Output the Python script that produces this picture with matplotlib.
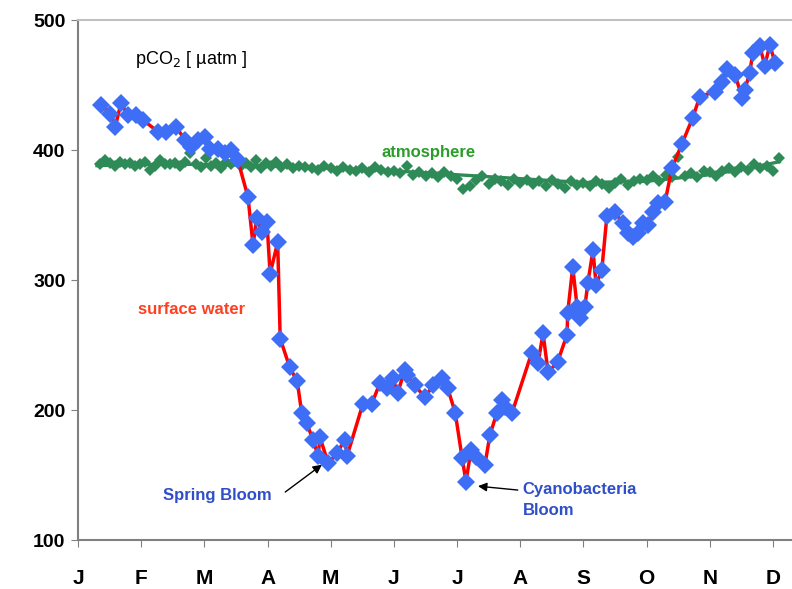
import numpy as np
import matplotlib.pyplot as plt

plt.rcParams['font.family'] = ['Liberation Sans', 'DejaVu Sans']

# month position (0 = Jan 1) and pCO2 in surface water
sw_month = [0.36, 0.51, 0.59, 0.68, 0.79, 0.92, 1.03, 1.27, 1.39, 1.55, 1.69, 1.79, 1.90, 2.01,
            2.09, 2.22, 2.33, 2.42, 2.53, 2.69, 2.77, 2.83, 2.91, 2.99, 3.04, 3.16, 3.20, 3.35,
            3.47, 3.54, 3.62, 3.72, 3.80, 3.83, 3.96, 4.10, 4.22, 4.26, 4.51, 4.65, 4.78, 4.89,
            4.98, 5.06, 5.17, 5.21, 5.33, 5.49, 5.62, 5.76, 5.85, 5.97, 6.08, 6.14, 6.22, 6.30,
            6.44, 6.52, 6.63, 6.71, 6.76, 6.87, 7.18, 7.28, 7.36, 7.44, 7.59, 7.74, 7.75, 7.83,
            7.90, 7.94, 8.02, 8.07, 8.15, 8.20, 8.29, 8.37, 8.50, 8.62, 8.70, 8.78, 8.86, 8.94,
            9.02, 9.10, 9.18, 9.29, 9.40, 9.56, 9.73, 9.84, 10.08, 10.19, 10.27, 10.40, 10.51,
            10.55, 10.63, 10.68, 10.79, 10.87, 10.95, 11.03]
sw_pco2 = [435, 428, 418, 436, 427, 427, 423, 414, 414, 418, 408, 402, 408, 410,
           401, 401, 398, 400, 392, 364, 327, 348, 337, 345, 305, 329, 255, 233,
           222, 198, 190, 177, 165, 179, 159, 167, 177, 165, 205, 205, 221, 217,
           225, 213, 231, 227, 219, 210, 219, 225, 217, 198, 163, 145, 169, 164,
           158, 181, 198, 208, 202, 198, 244, 236, 259, 229, 237, 258, 275, 310,
           279, 271, 279, 298, 323, 296, 308, 349, 352, 344, 336, 333, 336, 344,
           342, 352, 359, 360, 386, 405, 425, 441, 445, 452, 462, 458, 440,
           446, 459, 475, 480, 465, 481, 467]

# atmosphere
atm_month = [0.35, 0.42, 0.5, 0.58, 0.66, 0.74, 0.82, 0.9, 0.98, 1.06, 1.14, 1.22, 1.3, 1.38,
             1.46, 1.54, 1.62, 1.7, 1.78, 1.86, 1.94, 2.02, 2.1, 2.18, 2.26, 2.34, 2.42, 2.5,
             2.58, 2.66, 2.74, 2.82, 2.9, 2.98, 3.06, 3.14, 3.22, 3.3, 3.4, 3.5, 3.6, 3.7,
             3.8, 3.9, 4.0, 4.1, 4.2, 4.3, 4.4, 4.5, 4.6, 4.7, 4.8, 4.9, 5.0, 5.1, 5.2, 5.3,
             5.4, 5.5, 5.6, 5.7, 5.8, 5.9, 6.0, 6.1, 6.2, 6.3, 6.4, 6.5, 6.6, 6.7, 6.8, 6.9,
             7.0, 7.1, 7.2, 7.3, 7.4, 7.5, 7.6, 7.7, 7.8, 7.9, 8.0, 8.1, 8.2, 8.3, 8.4, 8.5,
             8.6, 8.7, 8.8, 8.9, 9.0, 9.1, 9.2, 9.3, 9.4, 9.5, 9.6, 9.7, 9.8, 9.9, 10.0, 10.1,
             10.2, 10.3, 10.4, 10.5, 10.6, 10.7, 10.8, 10.9, 11.0, 11.1]
atm_pco2 = [389, 392, 390, 388, 391, 389, 390, 388, 389, 391, 385, 388, 392, 389,
            389, 390, 388, 391, 398, 389, 387, 394, 388, 390, 386, 391, 389, 392,
            388, 390, 387, 392, 386, 390, 388, 391, 387, 389, 386, 388, 387, 386,
            385, 388, 386, 384, 387, 385, 384, 386, 383, 387, 385, 383, 384, 382, 388, 381,
            383, 380, 382, 379, 383, 380, 378, 370, 372, 377, 380, 374, 378, 376, 373, 378,
            375, 377, 374, 376, 372, 377, 374, 371, 376, 373, 375, 372, 376, 374, 371, 375,
            378, 373, 376, 378, 377, 380, 376, 381, 379, 395, 380, 382, 379, 384, 383, 380,
            384, 386, 383, 387, 385, 389, 386, 388, 384, 394]

trend_month = [0.3, 1, 2, 3, 4, 5, 6, 7, 8, 9, 10, 10.5, 11.1]
trend_pco2 = [388, 389, 389, 388, 386, 384, 381, 378, 375, 376, 381, 385, 391]

month_labels = ['J', 'F', 'M', 'A', 'M', 'J', 'J', 'A', 'S', 'O', 'N', 'D']

fig = plt.figure(figsize=(7.92, 5.89), dpi=100)
ax = fig.add_axes([0.0985, 0.083, 0.9015, 0.883])

ax.plot(atm_month, atm_pco2, linestyle='none', marker='D', markersize=6.5, color='#2e8b57',
        markeredgewidth=0)
ax.plot(trend_month, trend_pco2, color='#2e8b57', linewidth=2.4)
ax.plot(sw_month, sw_pco2, color='#ff0000', linewidth=2.5)
ax.plot(sw_month, sw_pco2, linestyle='none', marker='D', markersize=9.5, color='#3d6ef5',
        markeredgewidth=0)

ax.set_xlim(0, 11.3)
ax.set_ylim(100, 500)
ax.set_xticks(range(12))
ax.set_xticklabels(month_labels, fontsize=15, fontweight='bold')
ax.set_yticks([100, 200, 300, 400, 500])
ax.set_yticklabels(['100', '200', '300', '400', '500'], fontsize=14, fontweight='bold')
ax.tick_params(axis='x', length=5, color='#808080', pad=16)
ax.tick_params(axis='y', length=5, color='#808080', pad=4)

for s in ['left', 'bottom']:
    ax.spines[s].set_color('#808080')
    ax.spines[s].set_linewidth(1.5)
ax.spines['top'].set_color('#c0c0c0')
ax.spines['top'].set_linewidth(1.5)
ax.spines['right'].set_visible(False)

ax.text(0.9, 470, 'pCO$_2$ [ µatm ]', fontsize=13, ha='left', va='center')
ax.text(5.55, 398, 'atmosphere', fontsize=12, fontweight='bold', color='#2a9d2a',
        ha='center', va='center')
ax.text(1.8, 277, 'surface water', fontsize=12, fontweight='bold', color='#ff4020',
        ha='center', va='center')

ax.text(2.2, 134.5, 'Spring Bloom', fontsize=12, fontweight='bold', color='#2f4fc8',
        ha='center', va='center')
ax.annotate('', xy=(3.86, 158), xytext=(3.28, 137),
            arrowprops=dict(arrowstyle='-|>', color='black', lw=1, shrinkA=0, shrinkB=0,
                            mutation_scale=13))
ax.text(7.04, 131, 'Cyanobacteria\nBloom', fontsize=12, fontweight='bold', color='#2f4fc8',
        ha='left', va='center', linespacing=1.55)
ax.annotate('', xy=(6.33, 141.5), xytext=(6.96, 138.5),
            arrowprops=dict(arrowstyle='-|>', color='black', lw=1, shrinkA=0, shrinkB=0,
                            mutation_scale=13))

fig.savefig('out.png', dpi=100)
